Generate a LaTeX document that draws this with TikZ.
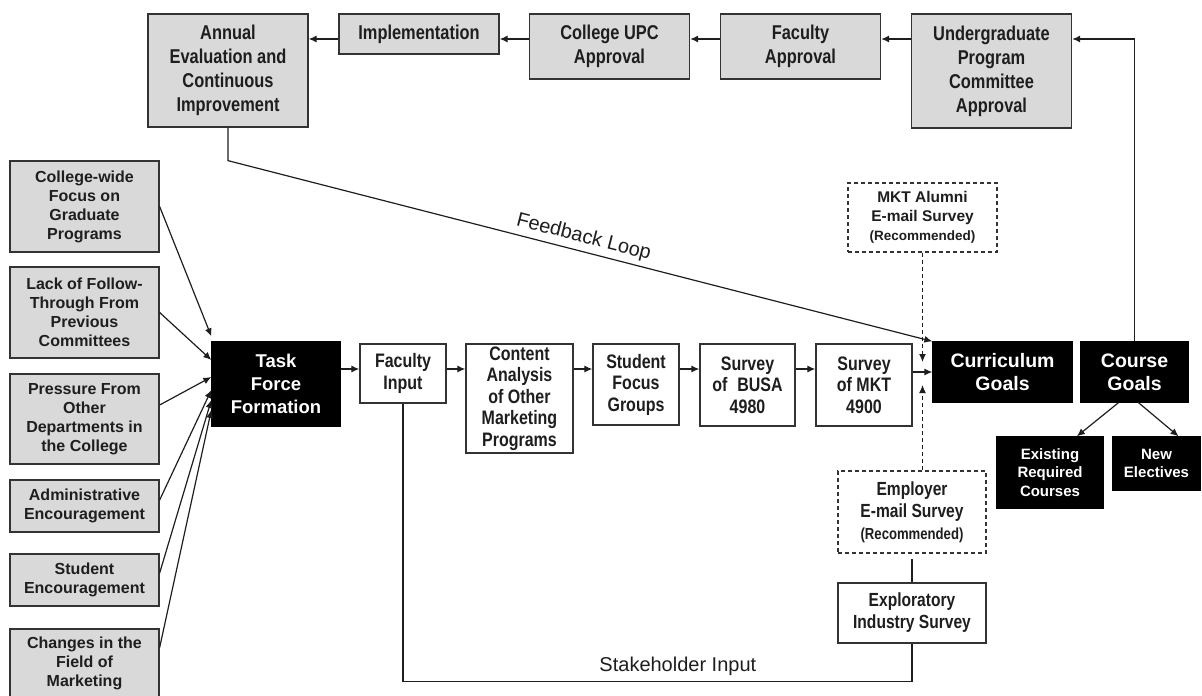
\documentclass[tikz,border=0pt]{standalone}
\usepackage{fontspec}
\setmainfont{Liberation Sans}
\newfontfamily\narrowsans[FakeStretch=0.82]{Liberation Sans}
\usetikzlibrary{arrows.meta,calc}
\definecolor{boxgray}{HTML}{D9D9D9}
\definecolor{edgegray}{HTML}{333333}
\definecolor{inkdark}{HTML}{1E1E1E}

\tikzset{
  box/.style={rectangle,draw=edgegray,line width=1.3pt,align=center,inner sep=0pt,text=inkdark},
  graybox/.style={box,fill=boxgray},
  topbox/.style={graybox,minimum width=160pt,font=\narrowsans\fontsize{20}{24}\selectfont\bfseries},
  sidebox/.style={graybox,minimum width=149pt,font=\fontsize{16}{19}\selectfont\bfseries},
  stepbox/.style={box,fill=white,font=\narrowsans\fontsize{19.5}{21.5}\selectfont\bfseries},
  darkbox/.style={box,fill=black,draw=black,text=white},
  optbox/.style={box,fill=white,dash pattern=on 4pt off 3pt,line width=1.1pt},
  arr/.style={-{Latex[length=8pt,width=7pt]},line width=1.2pt,draw=inkdark},
  dasharr/.style={arr,dash pattern=on 4pt off 3pt},
  plainline/.style={line width=1.2pt,draw=inkdark},
  loopnote/.style={font=\fontsize{20}{24}\selectfont,text=inkdark,inner sep=2pt}
}

\begin{document}
\begin{tikzpicture}[x=1pt,y=-1pt]
\useasboundingbox (0,0) rectangle (1202,696);

% approval chain
\node[topbox,minimum height=113pt] (ann) at (228,70.5) {Annual\\Evaluation and\\Continuous\\Improvement};
\node[topbox,minimum height=40pt] (impl) at (419,34) {Implementation};
\node[topbox,minimum height=65pt] (cupc) at (609.5,46.5) {College UPC\\Approval};
\node[topbox,minimum height=65pt] (facapp) at (800.5,46.5) {Faculty\\Approval};
\node[topbox,minimum height=114pt] (ugpc) at (991.5,71) {Undergraduate\\Program\\Committee\\Approval};
\coordinate (toprow) at (0,39);

% drivers
\node[sidebox,minimum height=91pt] (cwf) at (84.5,206.5) {College-wide\\Focus on\\Graduate\\Programs};
\node[sidebox,minimum height=91pt] (lft) at (84.5,312.5) {Lack of Follow-\\Through From\\Previous\\Committees};
\node[sidebox,minimum height=90pt] (pod) at (84.5,419) {Pressure From\\Other\\Departments in\\the College};
\node[sidebox,minimum height=52pt] (adm) at (84.5,506) {Administrative\\Encouragement};
\node[sidebox,minimum height=52pt] (stu) at (84.5,580) {Student\\Encouragement};
\node[sidebox,minimum height=69pt] (chg) at (84.5,663.5) {Changes in the\\Field of\\Marketing};

\node[darkbox,minimum width=128pt,minimum height=84pt,font=\fontsize{18.5}{23}\selectfont\bfseries] (tf) at (276,384) {Task\\Force\\Formation};

% input steps
\node[stepbox,minimum width=86pt,minimum height=59pt] (fi) at (403,373.5) {Faculty\\Input};
\node[stepbox,minimum width=107pt,minimum height=109pt] (ca) at (519.5,398.5) {Content\\Analysis\\of Other\\Marketing\\Programs};
\node[stepbox,minimum width=86pt,minimum height=81pt] (sfg) at (636,384.5) {Student\\Focus\\Groups};
\node[stepbox,minimum width=95pt,minimum height=82pt] (busa) at (747.5,385) {Survey\\of\enspace BUSA\\4980};
\node[stepbox,minimum width=96pt,minimum height=82pt] (mkt) at (864,385) {Survey\\of MKT\\4900};
\coordinate (midrow) at (0,369);

% goals
\node[darkbox,minimum width=139pt,minimum height=60pt,font=\fontsize{19.5}{23}\selectfont\bfseries] (cur) at (1002.5,372) {Curriculum\\Goals};
\node[darkbox,minimum width=107pt,minimum height=60pt,font=\fontsize{19.5}{23}\selectfont\bfseries] (crs) at (1134.5,372) {Course\\Goals};
\node[darkbox,minimum width=106pt,minimum height=71pt,font=\fontsize{15}{18.5}\selectfont\bfseries] (erc) at (1050,472.5) {Existing\\Required\\Courses};
\node[darkbox,minimum width=87pt,minimum height=53pt,font=\fontsize{15}{18.5}\selectfont\bfseries] (nel) at (1156.5,463.5) {New\\Electives};

% surveys
\node[optbox,minimum width=149pt,minimum height=69pt,font=\fontsize{15.5}{19}\selectfont\bfseries] (alum) at (922.5,217.5) {MKT Alumni\\E-mail Survey\\{\fontsize{13.5}{17}\selectfont(Recommended)}};
\node[optbox,minimum width=148pt,minimum height=82pt,font=\narrowsans\fontsize{19}{22}\selectfont\bfseries] (emp) at (912,512) {Employer\\E-mail Survey\\{\fontsize{16}{19}\selectfont(Recommended)}};
\node[stepbox,minimum width=148pt,minimum height=60pt,font=\narrowsans\fontsize{19}{22}\selectfont\bfseries] (exp) at (912,613) {Exploratory\\Industry Survey};

% chain arrows
\draw[arr] (impl.west |- toprow) -- (ann.east |- toprow);
\draw[arr] (cupc.west |- toprow) -- (impl.east |- toprow);
\draw[arr] (facapp.west |- toprow) -- (cupc.east |- toprow);
\draw[arr] (ugpc.west |- toprow) -- (facapp.east |- toprow);
\draw[arr] (crs.north) |- (ugpc.east |- toprow);

\draw[arr] (cwf.east) -- ([yshift=5pt]tf.north west);
\draw[arr] (lft.east) -- ([yshift=24pt]tf.west);
\draw[arr] ([yshift=14pt]pod.east) -- ([yshift=7pt]tf.west);
\draw[arr] ([yshift=6pt]adm.east) -- ([yshift=-6pt]tf.west);
\draw[arr] ([yshift=7pt]stu.east) -- ([yshift=-16pt]tf.west);
\draw[arr] ([yshift=16pt]chg.east) -- ([yshift=-26pt]tf.west);

\draw[arr] (tf.east |- midrow) -- (fi.west |- midrow);
\draw[arr] (fi.east |- midrow) -- (ca.west |- midrow);
\draw[arr] (ca.east |- midrow) -- (sfg.west |- midrow);
\draw[arr] (sfg.east |- midrow) -- (busa.west |- midrow);
\draw[arr] (busa.east |- midrow) -- (mkt.west |- midrow);
\draw[arr] (mkt.east |- cur.west) -- (cur.west);

\draw[dasharr] (alum.south) -- ([yshift=10pt]alum.south |- cur.west);
\draw[dasharr] (emp.north -| alum.south) -- ([yshift=-13pt]alum.south |- cur.west);

\draw[arr] ([xshift=-16pt]crs.south) -- ($(erc.north)!0.5!(erc.north east)$);
\draw[arr] ([xshift=4pt]crs.south) -- ($(nel.north)!0.5!(nel.north east)$);

% loops
\draw[arr] (ann.south) -- ++(0,33) -- (cur.north west) node[loopnote,midway,above=2pt,sloped] {Feedback Loop};
\draw[plainline,shorten <=5pt] (emp.south) -- (exp.north);
\draw[plainline] (fi.south) |- ([yshift=-38pt]exp.south) node[loopnote,pos=0.77,above=3pt] {Stakeholder Input} -- (exp.south);
\end{tikzpicture}
\end{document}
